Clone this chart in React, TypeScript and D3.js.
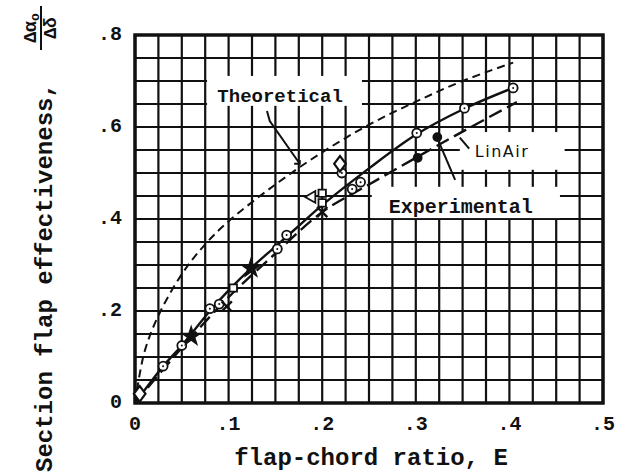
import { useMemo } from 'react'
import * as d3 from 'd3'

const W = 621
const H = 476
const PLOT = { left: 135, right: 603, top: 35, bottom: 403 }

const xTicks = [0, 0.1, 0.2, 0.3, 0.4, 0.5]
const xTickLabels = ['0', '.1', '.2', '.3', '.4', '.5']
const yTicks = [0, 0.2, 0.4, 0.6, 0.8]
const yTickLabels = ['0', '.2', '.4', '.6', '.8']

// curves: [E, effectiveness]
const theoretical: [number, number][] = [
  [0, 0], [0.01, 0.11], [0.025, 0.19], [0.05, 0.28], [0.075, 0.345], [0.1, 0.395],
  [0.15, 0.475], [0.2, 0.545], [0.25, 0.605], [0.3, 0.655], [0.35, 0.7], [0.404, 0.74],
]
const linAir: [number, number][] = [
  [0, 0], [0.03, 0.08], [0.05, 0.125], [0.08, 0.2], [0.1, 0.245], [0.125, 0.295],
  [0.15, 0.34], [0.175, 0.385], [0.2, 0.43], [0.25, 0.51], [0.3, 0.583],
  [0.35, 0.638], [0.404, 0.685],
]
const experimental: [number, number][] = [
  [0, 0], [0.05, 0.12], [0.1, 0.23], [0.15, 0.325], [0.2, 0.415], [0.25, 0.475],
  [0.3, 0.533], [0.35, 0.59], [0.408, 0.654],
]

// test points by symbol
const circlePts: [number, number][] = [
  [0.03, 0.08], [0.05, 0.125], [0.08, 0.205], [0.09, 0.215], [0.152, 0.335],
  [0.162, 0.365], [0.221, 0.5], [0.241, 0.48], [0.232, 0.465], [0.301, 0.587],
  [0.352, 0.641], [0.404, 0.685],
]
const squarePts: [number, number][] = [[0.105, 0.25], [0.2, 0.456], [0.2, 0.435]]
const trianglePts: [number, number][] = [[0.189, 0.448]]
const diamondPts: [number, number][] = [[0.219, 0.52], [0.005, 0.02]]
const crossPts: [number, number][] = [[0.2, 0.415], [0.098, 0.21]]
const starPts: [number, number][] = [[0.124, 0.293], [0.06, 0.145]]
const filledPts: [number, number][] = [[0.302, 0.533], [0.323, 0.578]]

const FONT = '"Liberation Mono", "DejaVu Sans Mono", monospace'

export default function App() {
  const x = useMemo(() => d3.scaleLinear().domain([0, 0.5]).range([PLOT.left, PLOT.right]), [])
  const y = useMemo(() => d3.scaleLinear().domain([0, 0.8]).range([PLOT.bottom, PLOT.top]), [])

  const line = d3.line<[number, number]>()
    .x((d) => x(d[0]))
    .y((d) => y(d[1]))
    .curve(d3.curveCatmullRom.alpha(0.5))

  const xGrid = d3.range(0, 21).map((i) => i * 0.025)
  const yGrid = d3.range(0, 17).map((i) => i * 0.05)

  const sym = (type: d3.SymbolType, size: number) => d3.symbol().type(type).size(size)() ?? ''

  // white patches where the grid was cleared for labels [x0, x1, y0, y1] in data units
  const boxes = [
    [0.077, 0.2425, 0.646, 0.711],
    [0.347, 0.459, 0.507, 0.589],
    [0.253, 0.454, 0.402, 0.47],
  ]

  const pointer = d3.line<[number, number]>().x((d) => x(d[0])).y((d) => y(d[1]))

  return (
    <div style={{ position: 'absolute', left: 0, top: 0 }}>
      <svg width={W} height={H} style={{ display: 'block', background: '#fff' }}>
        {/* grid */}
        <g stroke="#111" strokeWidth={2.2}>
          {xGrid.map((v, i) => (
            <line key={'gx' + i} x1={x(v)} x2={x(v)} y1={y(0)} y2={y(0.8)} />
          ))}
          {yGrid.map((v, i) => (
            <line key={'gy' + i} x1={x(0)} x2={x(0.5)} y1={y(v)} y2={y(v)} />
          ))}
        </g>
        {boxes.map((b, i) => (
          <rect key={'b' + i} x={x(b[0])} y={y(b[3])} width={x(b[1]) - x(b[0])} height={y(b[2]) - y(b[3])} fill="#fff" />
        ))}
        <rect x={x(0)} y={y(0.8)} width={x(0.5) - x(0)} height={y(0) - y(0.8)} fill="none" stroke="#111" strokeWidth={3.5} />

        {/* curves */}
        <path d={line(theoretical) ?? ''} fill="none" stroke="#111" strokeWidth={2} strokeDasharray="8,5" />
        <path d={line(linAir) ?? ''} fill="none" stroke="#111" strokeWidth={2.4} />
        <path d={line(experimental) ?? ''} fill="none" stroke="#111" strokeWidth={2.4} strokeDasharray="14,6" />

        {/* pointers */}
        <g fill="none" stroke="#111" strokeWidth={2}>
          <path d={pointer([[0.141, 0.635], [0.144, 0.613], [0.176, 0.52]]) ?? ''} />
          <path d={pointer([[0.17, 0.52], [0.176, 0.52], [0.176, 0.528]]) ?? ''} />
          <path d={pointer([[0.357, 0.553], [0.347, 0.577]]) ?? ''} />
          <path d={pointer([[0.342, 0.485], [0.321, 0.585]]) ?? ''} />
        </g>

        {/* markers */}
        <g stroke="#111" strokeWidth={1.8}>
          {circlePts.map((d, i) => (
            <g key={'c' + i} transform={`translate(${x(d[0])},${y(d[1])})`}>
              <circle r={4.5} fill="#fff" />
              <circle r={1} fill="#111" stroke="none" />
            </g>
          ))}
          {squarePts.map((d, i) => (
            <path key={'s' + i} d={sym(d3.symbolSquare, 55)} transform={`translate(${x(d[0])},${y(d[1])})`} fill="#fff" />
          ))}
          {trianglePts.map((d, i) => (
            <path key={'t' + i} d={sym(d3.symbolTriangle, 60)} transform={`translate(${x(d[0])},${y(d[1])}) rotate(-90)`} fill="#fff" />
          ))}
          {diamondPts.map((d, i) => (
            <path key={'d' + i} d={sym(d3.symbolDiamond, 70)} transform={`translate(${x(d[0])},${y(d[1])}) scale(1.3,1)`} fill="#fff" />
          ))}
          {crossPts.map((d, i) => (
            <path key={'x' + i} d={sym(d3.symbolTimes, 70)} transform={`translate(${x(d[0])},${y(d[1])})`} fill="none" strokeWidth={2.4} />
          ))}
          {starPts.map((d, i) => (
            <path key={'st' + i} d={sym(d3.symbolStar, 90)} transform={`translate(${x(d[0])},${y(d[1])})`} fill="#111" />
          ))}
          {filledPts.map((d, i) => (
            <circle key={'f' + i} cx={x(d[0])} cy={y(d[1])} r={4} fill="#111" />
          ))}
        </g>

        {/* in-plot labels */}
        <g fontFamily={FONT} fontWeight="bold" fill="#111">
          <text x={x(0.155)} y={y(0.654)} fontSize={19} textAnchor="middle">Theoretical</text>
          <text x={x(0.348)} y={y(0.413)} fontSize={20} textAnchor="middle">Experimental</text>
        </g>
        <text x={x(0.363)} y={y(0.535)} fontSize={16} fontFamily='"DejaVu Sans", sans-serif' fill="#111" letterSpacing={1.5}>LinAir</text>

        {/* tick labels */}
        <g fontFamily={FONT} fontWeight="bold" fontSize={20} fill="#111">
          {xTicks.map((v, i) => (
            <text key={'xt' + i} x={x(v)} y={PLOT.bottom + 27} textAnchor="middle">{xTickLabels[i]}</text>
          ))}
          {yTicks.map((v, i) => (
            <text key={'yt' + i} x={PLOT.left - 13} y={y(v) + 5} textAnchor="end">{yTickLabels[i]}</text>
          ))}
        </g>

        {/* axis titles */}
        <text x={371} y={465} fontFamily={FONT} fontWeight="bold" fontSize={24} textAnchor="middle" fill="#111">
          flap-chord ratio, E
        </text>
        <text transform="translate(52,472) rotate(-90)" fontFamily={FONT} fontWeight="bold" fontSize={24} fill="#111">
          Section flap effectiveness,
        </text>
        <g transform="translate(41,28) rotate(-90)" fontFamily={FONT} fontWeight="bold" fill="#111">
          <text x={0} y={-5} fontSize={18} textAnchor="middle">
            Δα<tspan fontSize={13} dy={3}>o</tspan>
          </text>
          <line x1={-22} x2={22} y1={0} y2={0} stroke="#111" strokeWidth={2} />
          <text x={0} y={15} fontSize={18} textAnchor="middle">Δδ</text>
        </g>
      </svg>
    </div>
  )
}
